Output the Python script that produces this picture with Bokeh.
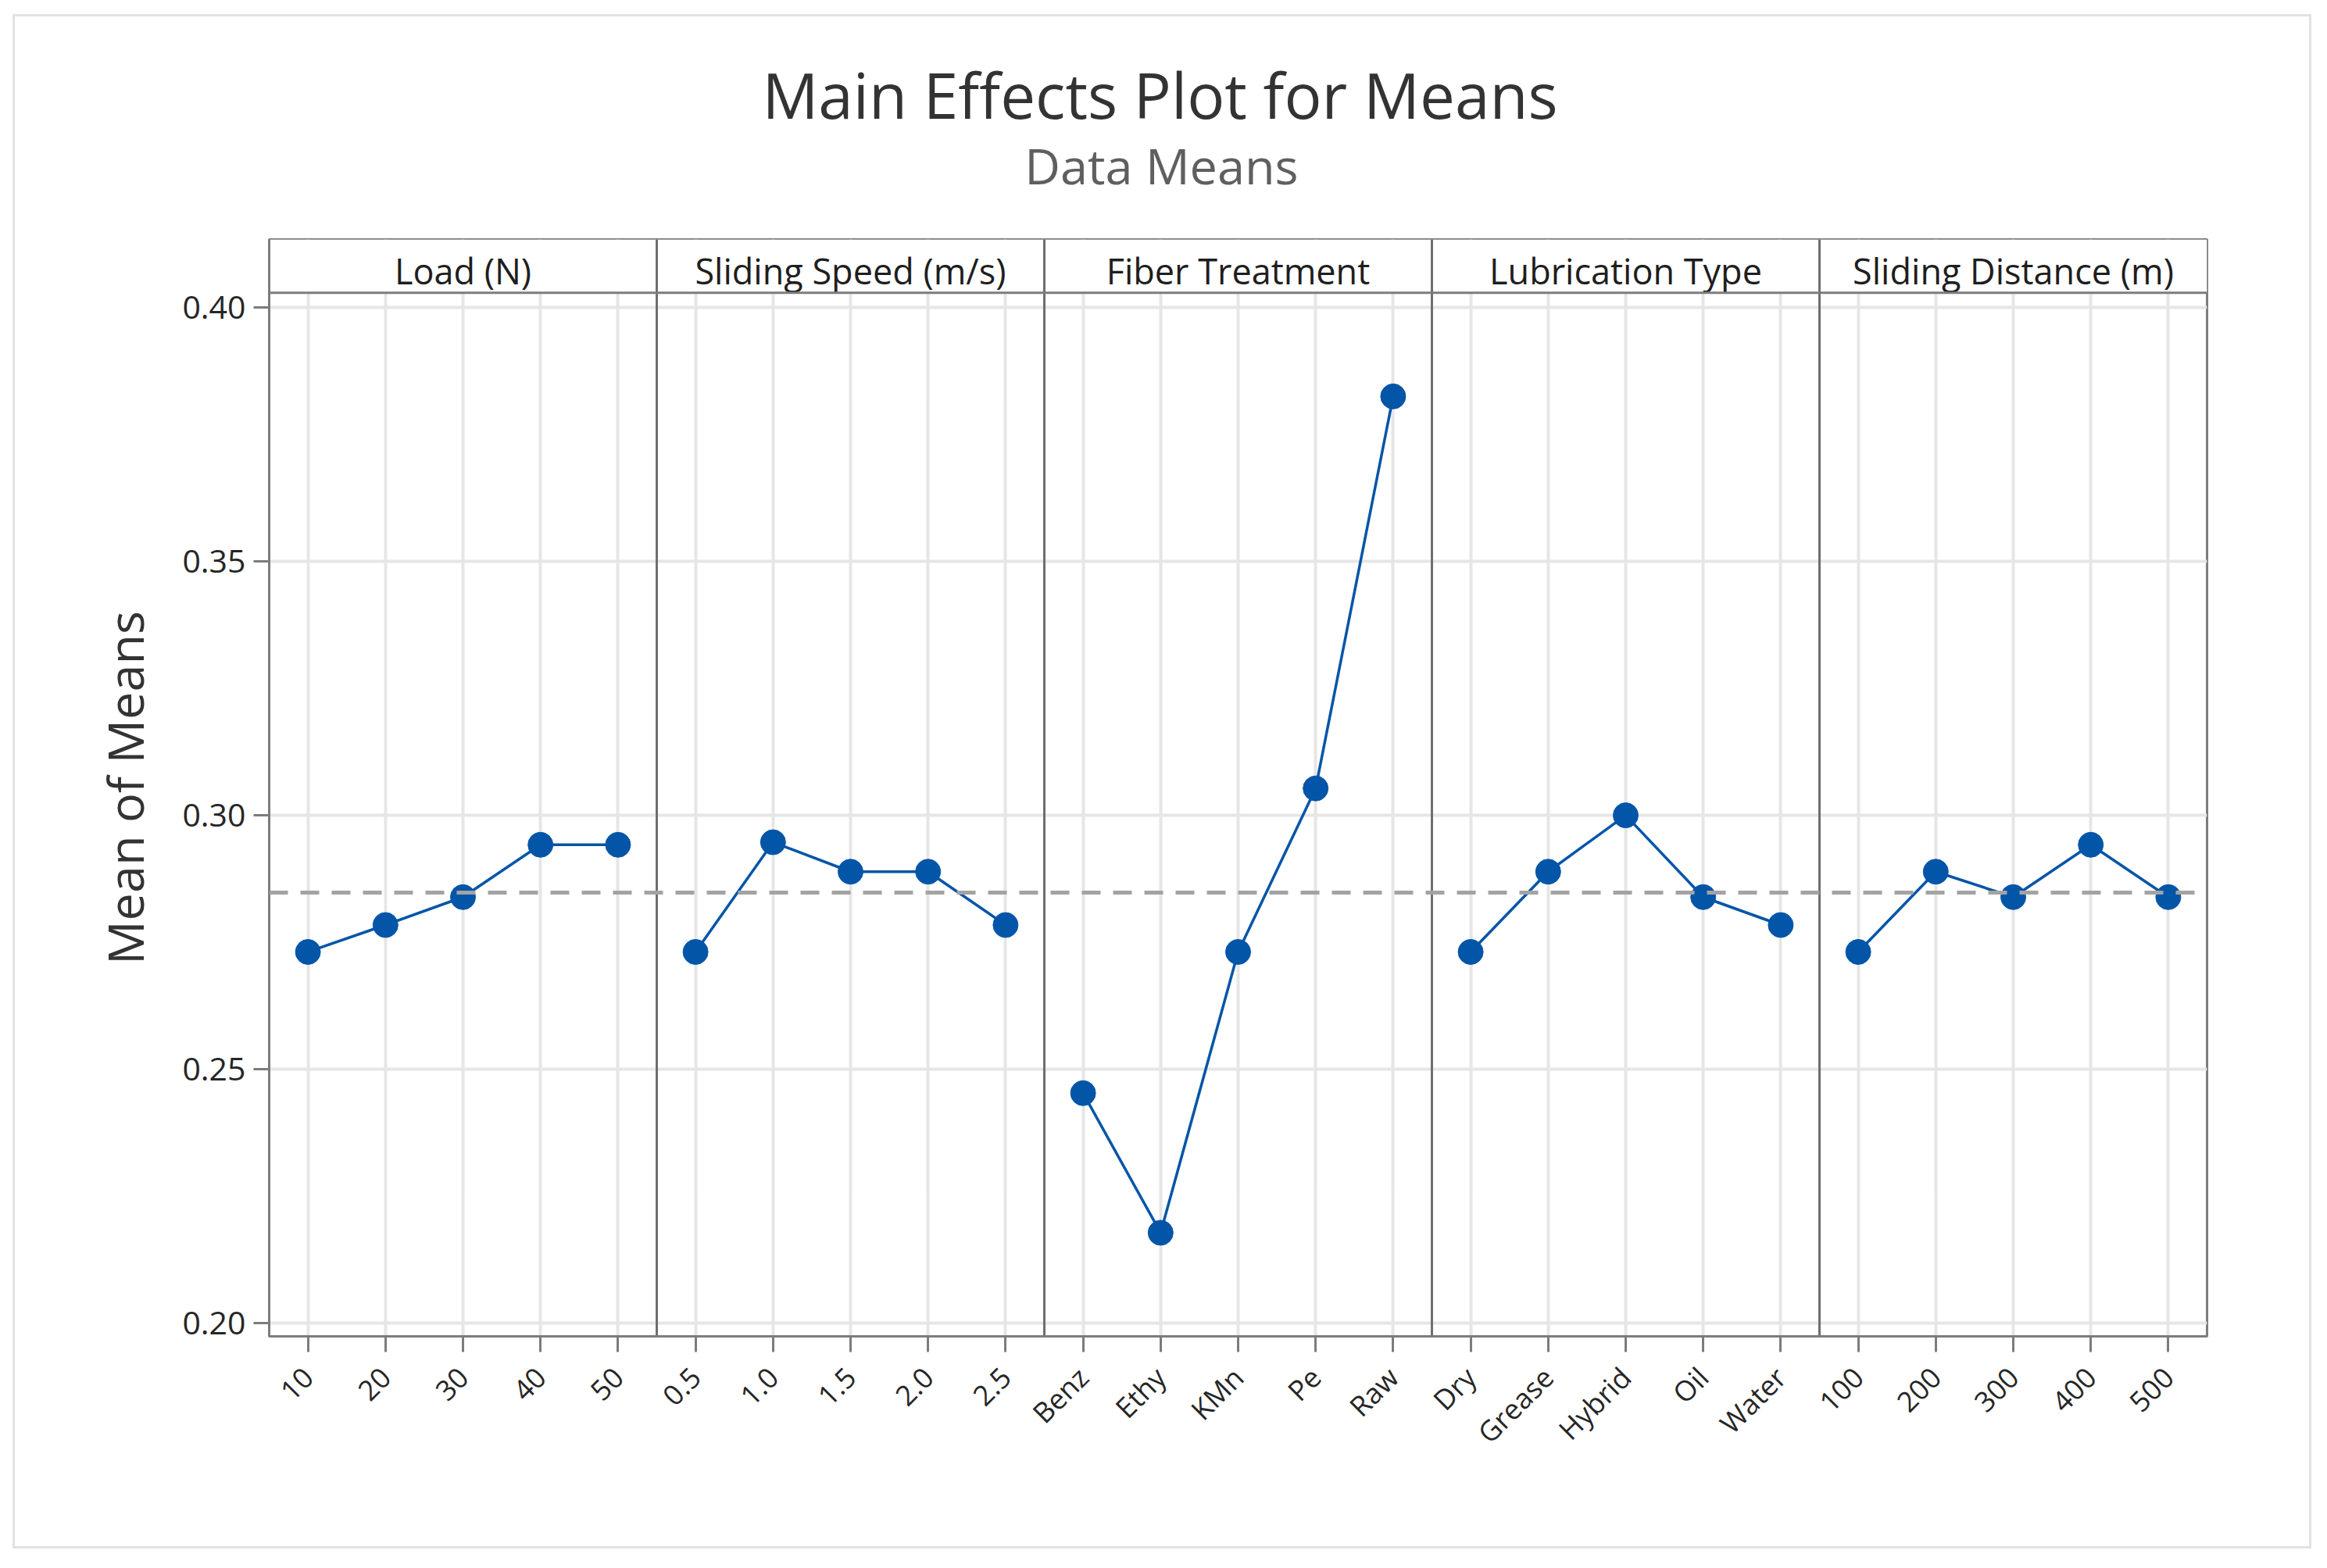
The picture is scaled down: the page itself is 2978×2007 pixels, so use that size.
from bokeh.plotting import figure
from bokeh.layouts import column
from bokeh.models import FixedTicker, Span, ColumnDataSource, NumeralTickFormatter
from bokeh.core.properties import value
from bokeh.embed import file_html
from bokeh.resources import INLINE

# ---------------- data ----------------
factors = ["Load (N)", "Sliding Speed (m/s)", "Fiber Treatment",
           "Lubrication Type", "Sliding Distance (m)"]
load_levels = ["10", "20", "30", "40", "50"]
load_means = [0.2731, 0.2784, 0.2839, 0.2942, 0.2942]
speed_levels = ["0.5", "1.0", "1.5", "2.0", "2.5"]
speed_means = [0.2731, 0.2947, 0.2889, 0.2889, 0.2784]
fiber_levels = ["Benz", "Ethy", "KMn", "Pe", "Raw"]
fiber_means = [0.2453, 0.2178, 0.2731, 0.3053, 0.3825]
lub_levels = ["Dry", "Grease", "Hybrid", "Oil", "Water"]
lub_means = [0.2731, 0.2889, 0.3000, 0.2839, 0.2784]
dist_levels = ["100", "200", "300", "400", "500"]
dist_means = [0.2731, 0.2889, 0.2839, 0.2942, 0.2839]
grand_mean = 0.2848
y_ticks = [0.20, 0.25, 0.30, 0.35, 0.40]
title_text = "Main Effects Plot for Means"
subtitle_text = "Data Means"

all_levels = [load_levels, speed_levels, fiber_levels, lub_levels, dist_levels]
all_means = [load_means, speed_means, fiber_means, lub_means, dist_means]

# ---------------- layout constants ----------------
FONT = "Open Sans"
BLUE = "#0355A8"
FRAME = "#7c7c7c"
GRID = "#e6e6e6"
W = 2936
TOP_H = 250
MAIN_H = 1958 - TOP_H
BL, BR = 325, 131

n_per = len(load_levels)
n_fac = len(factors)
x_lo, x_hi = 0.5, n_fac * n_per + 0.5
y_lo, y_top_plot, y_hi = 0.1974, 0.4029, 0.4134

# ---------------- title strip (pixel-like coordinates, y downwards) ----------------
# the column aligns this frame with the main frame, so the range matches it in pixels
top = figure(width=W, height=TOP_H, output_backend="svg", toolbar_location=None,
             x_range=(BL, W - BR), y_range=(TOP_H, 0),
             min_border_left=BL, min_border_right=BR, min_border_top=0, min_border_bottom=0,
             x_axis_location=None, y_axis_location=None)
top.grid.visible = False
top.outline_line_color = None
top.background_fill_color = "white"
top.border_fill_color = "white"
top.text(x=[1465], y=[99], text=[title_text], text_font=value(FONT),
         text_font_size="80px", text_color="#333333", text_align="center",
         text_baseline="middle")
top.text(x=[1467], y=[190], text=[subtitle_text], text_font=value(FONT),
         text_font_size="63px", text_color="#5f5f5f", text_align="center",
         text_baseline="middle")

# ---------------- main panel plot ----------------
p = figure(width=W, height=MAIN_H, output_backend="svg", toolbar_location=None,
           x_range=(x_lo, x_hi), y_range=(y_lo, y_hi),
           min_border_left=BL, min_border_right=BR,
           min_border_top=285 - TOP_H, min_border_bottom=269)
p.background_fill_color = "white"
p.border_fill_color = "white"
p.outline_line_color = FRAME
p.outline_line_width = 3

# grids
p.xgrid.ticker = FixedTicker(ticks=list(range(1, n_fac * n_per + 1)))
p.ygrid.ticker = FixedTicker(ticks=y_ticks)
for g in (p.xgrid, p.ygrid):
    g.grid_line_color = GRID
    g.grid_line_width = 4

# white header strip covering grid
p.quad(left=[x_lo], right=[x_hi], bottom=[y_top_plot], top=[y_hi],
       fill_color="white", line_color=None)

# header strip bottom line
p.add_layout(Span(location=y_top_plot, dimension="width",
                  line_color=FRAME, line_width=3))

# panel separators
sep_x = [i * n_per + 0.5 for i in range(1, n_fac)]
p.segment(x0=sep_x, x1=sep_x, y0=[y_lo] * len(sep_x), y1=[y_hi] * len(sep_x),
          line_color="#6e6e6e", line_width=3)

# grand mean dashed line
p.add_layout(Span(location=grand_mean, dimension="width", line_color="#a3a3a3",
                  line_width=5, line_dash="24 16"))

# data
overrides = {}
for i, (lv, mv) in enumerate(zip(all_levels, all_means)):
    xs = [i * n_per + j + 1 for j in range(len(lv))]
    for xx, name in zip(xs, lv):
        overrides[xx] = name
    p.line(xs, mv, line_color=BLUE, line_width=3.5)
    p.scatter(xs, mv, size=32, fill_color=BLUE, line_color=BLUE, marker="circle")

# header labels
hdr = ColumnDataSource(dict(x=[i * n_per + (n_per + 1) / 2 for i in range(n_fac)],
                            y=[(y_top_plot + y_hi) / 2 - 0.0009] * n_fac,
                            t=factors))
p.text(x="x", y="y", text="t", source=hdr, text_font=value(FONT),
       text_font_size="45px", text_color="#1e1e1e", text_align="center",
       text_baseline="middle")

# axes
xa = p.xaxis[0]
xa.ticker = FixedTicker(ticks=list(range(1, n_fac * n_per + 1)))
xa.major_label_overrides = overrides
xa.major_label_orientation = 0.785398
xa.major_label_text_font = FONT
xa.major_label_text_font_size = "36px"
xa.major_label_text_color = "#262626"
xa.major_label_standoff = 26

ya = p.yaxis[0]
ya.ticker = FixedTicker(ticks=y_ticks)
ya.formatter = NumeralTickFormatter(format="0.00")
ya.major_label_text_font = FONT
ya.major_label_text_font_size = "41px"
ya.major_label_text_color = "#262626"
ya.major_label_standoff = 10
ya.axis_label = "Mean of Means"
ya.axis_label_text_font = FONT
ya.axis_label_text_font_size = "63px"
ya.axis_label_text_font_style = "normal"
ya.axis_label_text_color = "#333333"
ya.axis_label_standoff = 28

for ax in (xa, ya):
    ax.axis_line_color = FRAME
    ax.axis_line_width = 3
    ax.major_tick_line_color = FRAME
    ax.major_tick_line_width = 3
    ax.major_tick_out = 20
    ax.major_tick_in = 0
    ax.minor_tick_line_color = None

layout = column(top, p, spacing=0, margin=(18, 0, 0, 16),
                styles={"border": "3px solid #e2e2e2"})

open("out.html", "w").write(file_html(layout, INLINE))
